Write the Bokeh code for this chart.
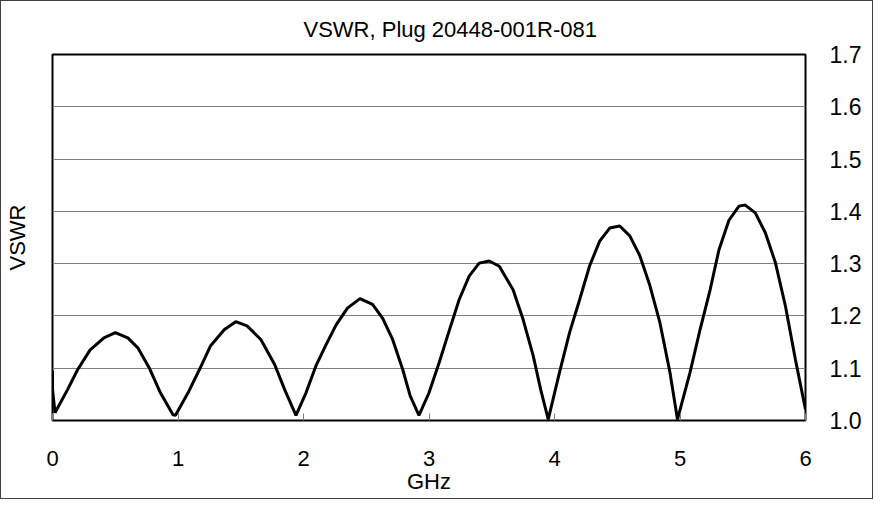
from bokeh.plotting import figure
from bokeh.models import LinearAxis, FixedTicker, Range1d, PrintfTickFormatter
from bokeh.embed import file_html
from bokeh.resources import INLINE

title_text = "VSWR, Plug 20448-001R-081"
x_label = "GHz"
y_label = "VSWR"
x_ticks = [0, 1, 2, 3, 4, 5, 6]
y_ticks = [1.0, 1.1, 1.2, 1.3, 1.4, 1.5, 1.6, 1.7]

freq_ghz = [0.0, 0.0, 0.02, 0.12, 0.20, 0.30, 0.41, 0.50, 0.60, 0.68, 0.77, 0.86, 0.96, 0.98,
            1.08, 1.17, 1.26, 1.37, 1.46, 1.55, 1.66, 1.77, 1.85, 1.94,
            2.02, 2.10, 2.18, 2.26, 2.35, 2.45, 2.55, 2.63, 2.71, 2.79, 2.85, 2.92,
            3.00, 3.08, 3.16, 3.24, 3.32, 3.40, 3.48, 3.56, 3.67, 3.75, 3.83, 3.89, 3.95,
            4.04, 4.12, 4.20, 4.28, 4.36, 4.44, 4.52, 4.60, 4.68, 4.76, 4.84, 4.92, 4.98,
            5.08, 5.16, 5.24, 5.31, 5.39, 5.47, 5.52, 5.60, 5.68, 5.76, 5.84, 5.92, 6.0]
vswr = [1.095, 1.06, 1.015, 1.059, 1.097, 1.135, 1.158, 1.168, 1.158, 1.139, 1.101, 1.053, 1.011, 1.010,
        1.053, 1.097, 1.143, 1.174, 1.189, 1.181, 1.155, 1.107, 1.059, 1.010,
        1.053, 1.105, 1.145, 1.183, 1.215, 1.233, 1.222, 1.196, 1.155, 1.098, 1.047, 1.010,
        1.053, 1.110, 1.171, 1.231, 1.276, 1.301, 1.305, 1.295, 1.250, 1.193, 1.124, 1.059, 1.002,
        1.092, 1.168, 1.231, 1.296, 1.343, 1.368, 1.372, 1.353, 1.315, 1.258, 1.187, 1.092, 1.002,
        1.092, 1.174, 1.250, 1.326, 1.383, 1.410, 1.412, 1.397, 1.359, 1.302, 1.219, 1.116, 1.021]

FONT = "Liberation Sans"

p = figure(width=873, height=499, x_range=Range1d(0, 6), y_range=Range1d(1.0, 1.7),
           output_backend="svg", toolbar_location=None, y_axis_location="right",
           min_border_left=51, min_border_top=52, min_border_right=69, min_border_bottom=80)
p.styles = {"border": "1px solid #404040"}
p.background_fill_color = "white"
p.border_fill_color = "white"
p.outline_line_color = "black"
p.outline_line_width = 2

p.title.text = title_text
p.title.align = "left"
p.title.offset = 251
p.title.standoff = 26
p.title.text_font = FONT
p.title.text_font_size = "22px"
p.title.text_font_style = "normal"
p.title.text_color = "black"

xa = p.xaxis[0]
xa.ticker = FixedTicker(ticks=x_ticks)
xa.axis_line_color = None
xa.major_tick_in = 7
xa.major_tick_out = 0
xa.major_tick_line_color = "#808080"
xa.minor_tick_line_color = None
xa.major_label_standoff = 30
xa.major_label_text_font = FONT
xa.major_label_text_font_size = "22px"
xa.major_label_text_color = "black"
xa.axis_label = x_label
xa.axis_label_standoff = 0
xa.axis_label_text_font = FONT
xa.axis_label_text_font_size = "22px"
xa.axis_label_text_font_style = "normal"
xa.axis_label_text_color = "black"

ya = p.yaxis[0]
ya.ticker = FixedTicker(ticks=y_ticks)
ya.formatter = PrintfTickFormatter(format="%.1f")
ya.axis_line_color = None
ya.major_tick_in = 0
ya.major_tick_out = 0
ya.minor_tick_line_color = None
ya.major_label_standoff = 24
ya.major_label_text_font = FONT
ya.major_label_text_font_size = "23px"
ya.major_label_text_color = "black"

left = LinearAxis(ticker=FixedTicker(ticks=[]), axis_label=y_label)
left.axis_line_color = None
left.major_tick_line_color = None
left.minor_tick_line_color = None
left.major_label_text_font_size = "0px"
left.axis_label_standoff = 23
left.axis_label_text_font = FONT
left.axis_label_text_font_size = "22px"
left.axis_label_text_font_style = "normal"
left.axis_label_text_color = "black"
p.add_layout(left, "left")

p.xgrid.visible = False
p.ygrid.ticker = FixedTicker(ticks=y_ticks)
p.ygrid.grid_line_color = "#808080"
p.ygrid.grid_line_width = 1

p.line(freq_ghz, vswr, line_color="black", line_width=3)

open("out.html", "w").write(file_html(p, INLINE))
